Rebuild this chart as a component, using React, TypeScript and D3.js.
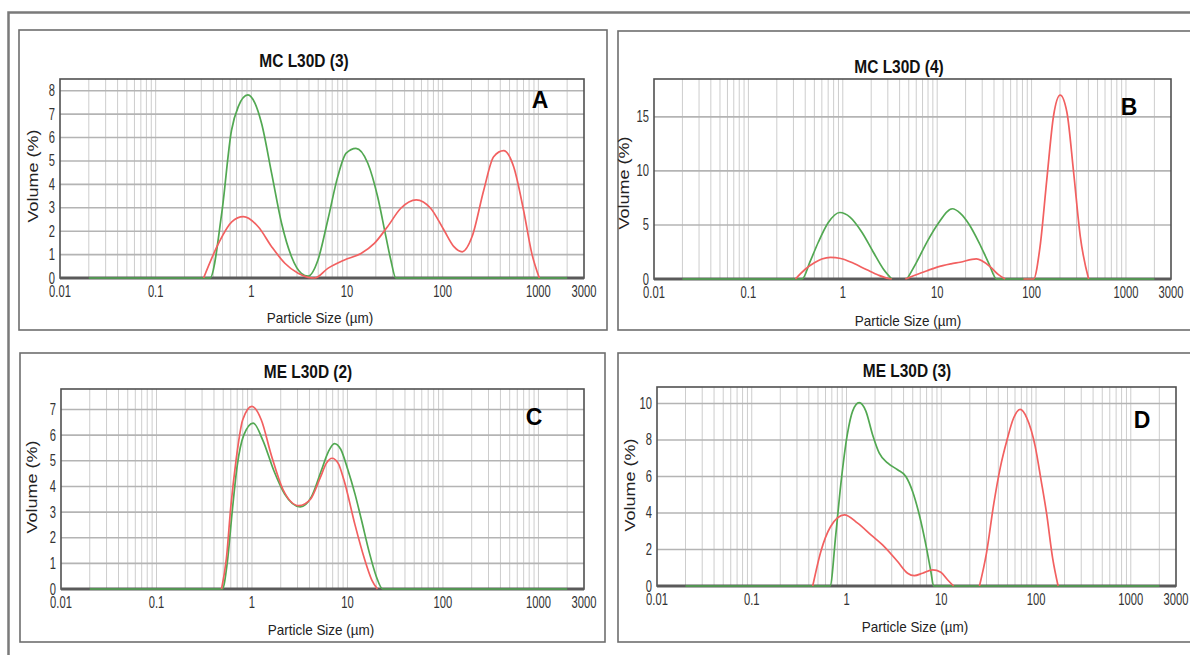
import * as d3 from "d3";

// particle size axis (µm)
const xTickValues = [0.01, 0.1, 1, 10, 100, 1000, 3000];
const xTickLabels = ["0.01", "0.1", "1", "10", "100", "1000", "3000"];

const titles = ["MC L30D (3)", "MC L30D (4)", "ME L30D (2)", "ME L30D (3)"];
const letters = ["A", "B", "C", "D"];
const yMaxes = [8.5, 18.5, 7.8, 10.9];
const yTicksA = [0, 1, 2, 3, 4, 5, 6, 7, 8];
const yTicksB = [0, 5, 10, 15];
const yTicksC = [0, 1, 2, 3, 4, 5, 6, 7];
const yTicksD = [0, 2, 4, 6, 8, 10];

// null = gap in the trace
const aRedSize = [0.317, 0.454, 0.624, 0.826, 1.18, 1.63, 2.24, 3.08, 3.92, 4.6, 6.3, 9.4, 14, 19.3, 26.5, 36.5, 53, 74.8, 103, 131, 160, 203, 269, 341, 434, 551, 700, 854, 1023];
const aRedVol = [0, 1.48, 2.4, 2.62, 2.19, 1.34, 0.63, 0.2, 0.03, 0, 0.41, 0.77, 1.05, 1.48, 2.19, 2.98, 3.34, 2.98, 2.05, 1.34, 1.12, 1.77, 3.76, 5.18, 5.44, 4.76, 2.9, 1.05, 0];
const aGreenSize = [0.02, 0.37, 0.49, 0.62, 0.73, 0.92, 1.09, 1.28, 1.63, 2.07, 2.63, 3.33, 3.92, 4.97, 6.3, 8.0, 9.8, 12.4, 16.5, 20.9, 25.5, 28.7, 32.4, 2000];
const aGreenVol = [0, 0, 2.76, 6.3, 7.32, 7.82, 7.47, 6.6, 4.47, 2.34, 0.91, 0.2, 0.08, 0.77, 2.48, 4.33, 5.33, 5.54, 4.9, 3.47, 1.77, 0.77, 0, 0];

const bRedSize = [0.315, 0.4, 0.5, 0.6, 0.74, 0.95, 1.3, 1.8, 2.4, 3.05, 3.3, null, 4.6, 6, 8, 10, 14, 17.5, 26, 36.3, 44.6, 52.5, null, 82, 105, 123, 145, 171, 201, 237, 279, 328, 402];
const bRedVol = [0, 0.9, 1.5, 1.85, 2.0, 1.9, 1.45, 0.85, 0.35, 0.05, 0, null, 0, 0.4, 0.8, 1.1, 1.4, 1.55, 1.86, 1.15, 0.4, 0, null, 0, 0, 3.0, 9.2, 15.1, 17.0, 15.4, 9.85, 3.94, 0];
const bGreenSize = [0.02, 0.37, 0.45, 0.55, 0.7, 0.93, 1.2, 1.6, 2.1, 2.7, 3.3, null, 4.8, 6, 8, 10, 14.5, 17.5, 22, 28, 35, 42.8, 2000];
const bGreenVol = [0, 0, 1.6, 3.4, 5.2, 6.15, 5.7, 4.3, 2.5, 0.9, 0, null, 0, 1.5, 3.6, 5.0, 6.5, 6.1, 5.0, 3.3, 1.5, 0, 0];

const cRedSize = [0.48, 0.54, 0.6, 0.68, 0.8, 1.0, 1.25, 1.6, 2.1, 3.1, 4.1, 5.2, 6.0, 6.9, 8, 9.2, 12, 15, 18, 20.6];
const cRedVol = [0, 1.2, 3.2, 5.0, 6.6, 7.12, 6.6, 5.2, 3.9, 3.25, 3.5, 4.35, 4.9, 5.1, 4.9, 4.24, 2.5, 1.2, 0.35, 0];
const cGreenSize = [0.02, 0.49, 0.55, 0.62, 0.7, 0.82, 1.03, 1.3, 1.7, 2.2, 3.2, 4.2, 5.3, 6.3, 7.3, 8.5, 10, 12, 14, 17, 20, 23.4, 2000];
const cGreenVol = [0, 0, 1.0, 3.0, 4.8, 6.0, 6.47, 5.8, 4.6, 3.7, 3.2, 3.6, 4.6, 5.35, 5.67, 5.45, 4.7, 3.7, 2.7, 1.4, 0.5, 0, 0];

const dRedSize = [0.44, 0.535, 0.68, 0.95, 1.31, 1.81, 2.5, 3.46, 4.41, 5.19, 6.35, 8.1, 9.9, 11.7, 13.5, null, 25.3, 30, 35.8, 42, 49.4, 58, 68, 80, 98, 113, 129, 150, 171];
const dRedVol = [0, 1.88, 3.26, 3.9, 3.44, 2.8, 2.16, 1.34, 0.7, 0.57, 0.7, 0.88, 0.75, 0.33, 0, null, 0, 1.8, 4.5, 6.5, 8.0, 9.2, 9.67, 9.2, 7.65, 5.8, 4.0, 1.5, 0];
const dGreenSize = [0.02, 0.67, 0.77, 0.87, 1.02, 1.16, 1.36, 1.6, 1.88, 2.21, 2.71, 3.46, 4.23, 4.98, 5.86, 6.88, 7.77, 8.3, 2000];
const dGreenVol = [0, 0, 2.8, 5.55, 8.3, 9.58, 10.04, 9.58, 8.3, 7.29, 6.74, 6.37, 6.0, 5.18, 3.9, 2.25, 0.79, 0, 0];

type Pt = { s: number | null; v: number | null };
const zipPts = (s: (number | null)[], v: (number | null)[]): Pt[] => s.map((d, i) => ({ s: d, v: v[i] }));

const series = [
  { red: zipPts(aRedSize, aRedVol), green: zipPts(aGreenSize, aGreenVol), yTicks: yTicksA },
  { red: zipPts(bRedSize, bRedVol), green: zipPts(bGreenSize, bGreenVol), yTicks: yTicksB },
  { red: zipPts(cRedSize, cRedVol), green: zipPts(cGreenSize, cGreenVol), yTicks: yTicksC },
  { red: zipPts(dRedSize, dRedVol), green: zipPts(dGreenSize, dGreenVol), yTicks: yTicksD },
];

// layout of each panel on the page
const layout = [
  { box: [19, 30, 588, 300], plot: [60, 584, 79, 278], title: [304, 67], letter: [540, 108], yLab: [34, 176], xLab: [320, 323] },
  { box: [618, 31, 600, 299], plot: [654, 1171, 79, 279], title: [899, 73], letter: [1129, 115], yLab: [625, 183], xLab: [908, 326] },
  { box: [20, 353, 585, 289], plot: [61, 584, 389, 589], title: [308, 378], letter: [534, 425], yLab: [33, 487], xLab: [321, 635] },
  { box: [618, 353, 600, 289], plot: [657, 1176, 387, 586], title: [907, 377], letter: [1142, 428], yLab: [631, 485], xLab: [915, 632] },
];

const FONT = "'Liberation Sans', Arial, sans-serif";
const RED = "#f26060";
const GREEN = "#52a852";

const minorGrid: number[] = [];
for (let e = -2; e <= 3; e++) {
  for (let k = 1; k <= 9; k++) {
    const v = k * Math.pow(10, e);
    if (v > 0.0101 && v < 2999) minorGrid.push(v);
  }
}

const Panel = ({ i }: { i: number }) => {
  const L = layout[i];
  const [pl, pr, pt, pb] = L.plot;
  const x = d3.scaleLog().domain([0.01, 3000]).range([pl, pr]);
  const y = d3.scaleLinear().domain([0, yMaxes[i]]).range([pb, pt]);
  const line = d3
    .line<Pt>()
    .defined((d) => d.v !== null)
    .x((d) => x(d.s as number))
    .y((d) => y(d.v as number))
    .curve(d3.curveMonotoneX);
  const s = series[i];
  return (
    <g>
      <rect x={L.box[0]} y={L.box[1]} width={L.box[2]} height={L.box[3]} fill="#fff" stroke="#6e6e6e" strokeWidth={1.6} />
      <text transform={`translate(${L.title[0]},${L.title[1]}) scale(0.86,1)`} textAnchor="middle" fontFamily={FONT} fontWeight="bold" fontSize={18} fill="#111">
        {titles[i]}
      </text>
      <rect x={pl} y={pt} width={pr - pl} height={pb - pt} fill="#fff" />
      {minorGrid.map((v) => (
        <line key={v} x1={x(v)} x2={x(v)} y1={pt} y2={pb} stroke="#cdcdcd" strokeWidth={1} />
      ))}
      {s.yTicks.filter((t) => t > 0).map((t) => (
        <line key={t} x1={pl} x2={pr} y1={y(t)} y2={y(t)} stroke="#b4b4b4" strokeWidth={1.6} />
      ))}
      <rect x={pl} y={pt} width={pr - pl} height={pb - pt} fill="none" stroke="#505050" strokeWidth={1.6} />
      <line x1={pl} x2={pr} y1={pb} y2={pb} stroke="#5a5a5a" strokeWidth={3} />
      <path d={line(s.green) || ""} fill="none" stroke={GREEN} strokeWidth={1.7} />
      <path d={line(s.red) || ""} fill="none" stroke={RED} strokeWidth={1.7} />
      {xTickValues.map((v, k) => (
        <text key={v} transform={`translate(${x(v)},${pb + 19}) scale(0.7,1)`} textAnchor="middle" fontFamily={FONT} fontSize={16} fill="#333">
          {xTickLabels[k]}
        </text>
      ))}
      {s.yTicks.map((t) => (
        <text key={t} transform={`translate(${pl - 5},${y(t) + 5.5}) scale(0.7,1)`} textAnchor="end" fontFamily={FONT} fontSize={16} fill="#333">
          {t}
        </text>
      ))}
      <text transform={`translate(${L.xLab[0]},${L.xLab[1]}) scale(0.9,1)`} textAnchor="middle" fontFamily={FONT} fontSize={15} fill="#222">
        Particle Size (µm)
      </text>
      <text transform={`translate(${L.yLab[0]},${L.yLab[1]}) rotate(-90) scale(1.2,0.95)`} textAnchor="middle" dominantBaseline="middle" fontFamily={FONT} fontSize={15} fill="#222">
        Volume (%)
      </text>
      <text x={L.letter[0]} y={L.letter[1]} textAnchor="middle" fontFamily={FONT} fontWeight="bold" fontSize={23} fill="#000">
        {letters[i]}
      </text>
    </g>
  );
};

export default function App() {
  return (
    <svg width={1190} height={655} style={{ position: "absolute", left: 0, top: 0, background: "#fff" }}>
      <path d="M8.5 655 V12.5 H1190" fill="none" stroke="#7a7a7a" strokeWidth={2.5} />
      {[0, 1, 2, 3].map((i) => (
        <Panel key={i} i={i} />
      ))}
    </svg>
  );
}
